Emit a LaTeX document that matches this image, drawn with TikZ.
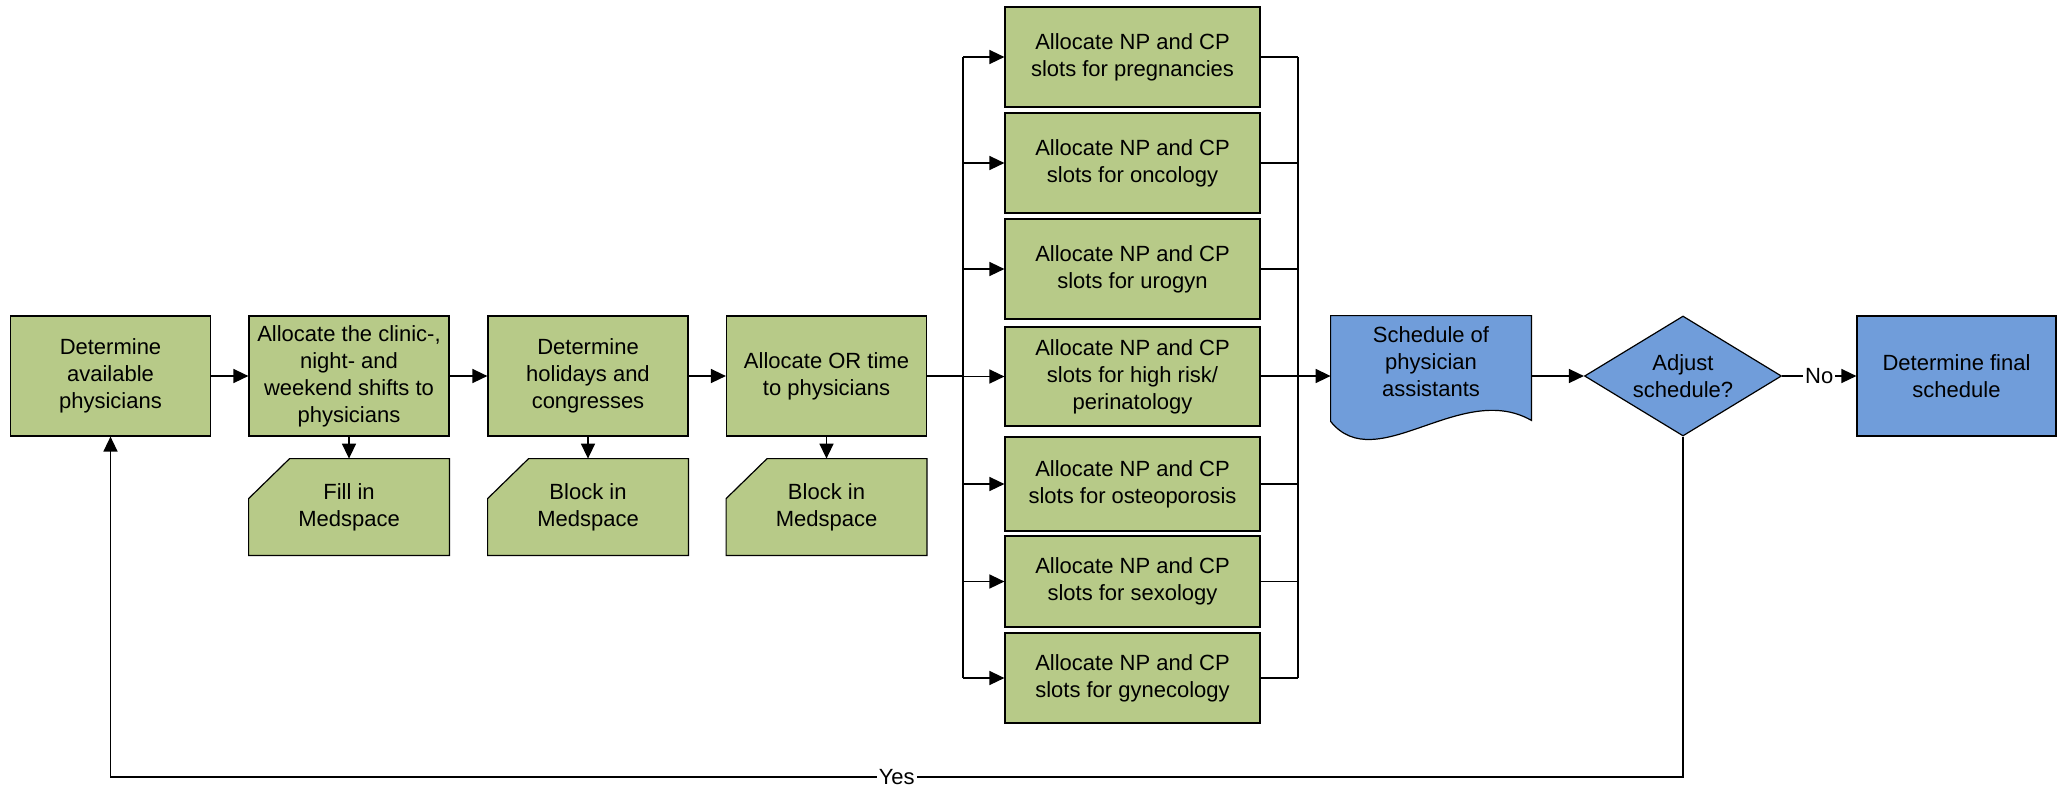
\documentclass[tikz,border=0pt]{standalone}
\usepackage{fontspec}
\setmainfont{Liberation Sans}
\usetikzlibrary{arrows.meta,calc,shapes.geometric,backgrounds}
\definecolor{boxgreen}{RGB}{183,202,136}
\definecolor{boxblue}{RGB}{112,157,218}
\tikzset{
  txt/.style={font=\fontsize{11}{13.5}\selectfont, align=center, inner sep=0pt},
  gbox/.style={txt, draw=black, line width=0.6pt, fill=boxgreen, minimum width=100pt, minimum height=60pt},
  sbox/.style={txt, draw=black, line width=0.6pt, fill=boxgreen, minimum width=127.5pt},
  cardtext/.style={txt, minimum width=100pt, minimum height=48pt},
  cardshape/.style={draw=black, line width=0.6pt, fill=boxgreen},
  docshape/.style={draw=black, line width=0.6pt, fill=boxblue},
  dia/.style={txt, diamond, aspect=1.64, draw=black, line width=0.6pt, fill=boxblue, minimum width=98.5pt, minimum height=60pt},
  bbox/.style={txt, draw=black, line width=0.6pt, fill=boxblue, minimum width=99.5pt, minimum height=60pt},
  conn/.style={line width=0.75pt, draw=black},
  arr/.style={conn, -{Triangle[length=7.5pt,width=7pt]}},
  lbl/.style={txt, fill=white, inner sep=1pt}
}
\begin{document}
\begin{tikzpicture}[x=0.5pt,y=-0.5pt]
\useasboundingbox (0,0) rectangle (2065,788);

% main row
\node[gbox] (A) at (110.5,376) {Determine\\available\\physicians};
\node[gbox] (B) at (349,376) {Allocate the clinic-,\\night- and\\weekend shifts to\\physicians};
\node[gbox] (C) at (588,376) {Determine\\holidays and\\congresses};
\node[gbox] (D) at (826.5,376) {Allocate OR time\\to physicians};

% cards
\node[cardtext] (cB) at (349,507) {Fill in\\Medspace};
\node[cardtext] (cC) at (588,507) {Block in\\Medspace};
\node[cardtext] (cD) at (826.5,507) {Block in\\Medspace};
\begin{scope}[on background layer]
\foreach \c in {cB,cC,cD}{
  \draw[cardshape] ($(\c.north west)+(41,0)$) -- (\c.north east) -- (\c.south east) -- (\c.south west) -- ($(\c.north west)+(0,40)$) -- cycle;
}
\end{scope}

% slot boxes
\node[sbox, minimum height=50pt] (s1) at (1132.5,57) {Allocate NP and CP\\slots for pregnancies};
\node[sbox, minimum height=50pt] (s2) at (1132.5,163) {Allocate NP and CP\\slots for oncology};
\node[sbox, minimum height=50pt] (s3) at (1132.5,269) {Allocate NP and CP\\slots for urogyn};
\node[sbox, minimum height=49.5pt] (s4) at (1132.5,376.5) {Allocate NP and CP\\slots for high risk/\\perinatology};
\node[sbox, minimum height=47pt] (s5) at (1132.5,484) {Allocate NP and CP\\slots for osteoporosis};
\node[sbox, minimum height=45.5pt] (s6) at (1132.5,581.5) {Allocate NP and CP\\slots for sexology};
\node[sbox, minimum height=45pt] (s7) at (1132.5,678) {Allocate NP and CP\\slots for gynecology};

% document
\node[txt, minimum width=100pt, minimum height=46pt] (doc) at (1431,362) {Schedule of\\physician\\assistants};
\begin{scope}[on background layer]
\draw[docshape] (doc.north west) -- (doc.north east) -- ($(doc.south east)+(0,12)$)
  .. controls (1461,380) and (1376,478) .. ($(doc.south west)+(0,13)$) -- cycle;
\end{scope}

% decision and final
\node[dia] (adj) at (1683,376) {Adjust\\schedule?};
\node[bbox] (fin) at (1956.5,376) {Determine final\\schedule};

% bus coordinates
\coordinate (lbus) at (963,376);
\coordinate (rbus) at (1298,376);

% connectors main row
\draw[arr] (A) -- (B);
\draw[arr] (B) -- (C);
\draw[arr] (C) -- (D);
\draw[arr] (B) -- (cB);
\draw[arr] (C) -- (cC);
\draw[arr] (D) -- (cD);

% left bus
\draw[conn] (D.east) -- (lbus);
\draw[conn] (s1.west -| lbus) -- (s7.west -| lbus);
\foreach \s in {s1,s2,s3,s4,s5,s6,s7}{
  \draw[arr] (\s.west -| lbus) -- (\s.west);
}
% right bus
\draw[conn] (s1.east -| rbus) -- (s7.east -| rbus);
\foreach \s in {s1,s2,s3,s5,s6,s7}{
  \draw[conn] (\s.east) -- (\s.east -| rbus);
}
\draw[arr] (s4.east |- rbus) -- (rbus -| doc.west);

% to decision
\draw[arr] (doc.east |- adj.west) -- (adj.west);
\draw[arr] (adj.east) -- node[lbl] {No} (fin.west);

% yes loop
\coordinate (yb) at (1683,777);
\draw[arr] (adj.south) -- (yb) -| node[lbl, pos=0.25] {Yes} (A.south);
\end{tikzpicture}
\end{document}
